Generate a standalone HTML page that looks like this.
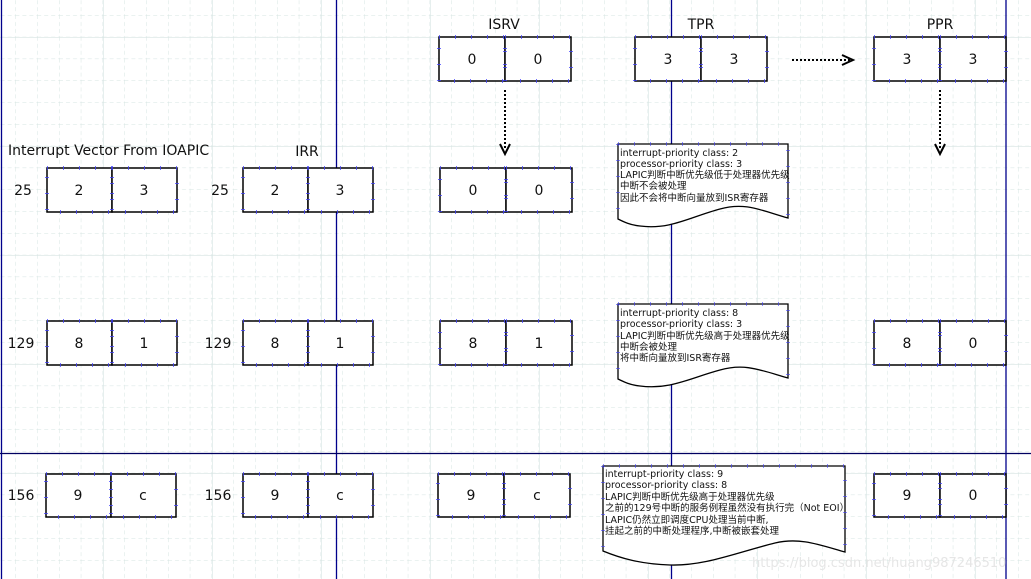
<!DOCTYPE html>
<html><head><meta charset="utf-8"><style>
html,body{margin:0;padding:0;background:#fff;width:1031px;height:579px;overflow:hidden}
svg{display:block}
text{font-family:"DejaVu Sans","Liberation Sans","Noto Sans CJK SC",sans-serif;fill:#111}
.n{font-size:14px}
.s{font-size:9.5px}
</style></head><body>
<svg width="1031" height="579" viewBox="0 0 1031 579" xmlns="http://www.w3.org/2000/svg">
<defs>
<pattern id="g" x="15.4" y="15" width="21.8" height="21.8" patternUnits="userSpaceOnUse">
<path d="M0 0V21.8M0 0H21.8" stroke="#d6e4e2" stroke-width="1" stroke-dasharray="4 3" fill="none"/>
</pattern>
<pattern id="G" x="103" y="37" width="109" height="109" patternUnits="userSpaceOnUse">
<path d="M0 0V109M0 0H109" stroke="#d6e4e2" stroke-width="1.2" fill="none"/>
</pattern>
<g id="boxes">
<rect x="47" y="168" width="65" height="44"/><rect x="112" y="168" width="65" height="44"/>
<rect x="243" y="168" width="65" height="44"/><rect x="308" y="168" width="65" height="44"/>
<rect x="440" y="168" width="66" height="44"/><rect x="506" y="168" width="66" height="44"/>
<rect x="439" y="37" width="66" height="44"/><rect x="505" y="37" width="66" height="44"/>
<rect x="635" y="37" width="66" height="44"/><rect x="701" y="37" width="66" height="44"/>
<rect x="874" y="37" width="66" height="44"/><rect x="940" y="37" width="66" height="44"/>
<rect x="47" y="321" width="65" height="44"/><rect x="112" y="321" width="65" height="44"/>
<rect x="243" y="321" width="65" height="44"/><rect x="308" y="321" width="65" height="44"/>
<rect x="440" y="321" width="66" height="44"/><rect x="506" y="321" width="66" height="44"/>
<rect x="874" y="321" width="66" height="44"/><rect x="940" y="321" width="66" height="44"/>
<rect x="46" y="474" width="65" height="43"/><rect x="111" y="474" width="65" height="43"/>
<rect x="243" y="474" width="65" height="43"/><rect x="308" y="474" width="65" height="43"/>
<rect x="438" y="474" width="66" height="43"/><rect x="504" y="474" width="66" height="43"/>
<rect x="874" y="474" width="66" height="43"/><rect x="940" y="474" width="66" height="43"/>
</g>
</defs>
<rect width="1031" height="579" fill="url(#g)"/>
<rect width="1031" height="579" fill="url(#G)"/>
<g stroke="#00008b" stroke-width="1.3">
<line x1="1.5" y1="0" x2="1.5" y2="579"/>
<line x1="336.5" y1="0" x2="336.5" y2="579"/>
<line x1="671.5" y1="0" x2="671.5" y2="579"/>
<line x1="1006" y1="0" x2="1006" y2="579"/>
<line x1="0" y1="453.5" x2="1031" y2="453.5" stroke="#000060"/>
</g>
<use href="#boxes" fill="#fff" stroke="#000" stroke-width="1.5"/>
<use href="#boxes" fill="none" stroke="#4040ff" stroke-width="4" stroke-dasharray="1 15" opacity="0.75"/>
<!-- notes -->
<g fill="#fff" stroke="#000" stroke-width="1.3">
<path d="M618 144H788V218C760 210 745 202 720 209C690 217 670 230 640 226C630 225 624 222 618 219Z"/>
<path d="M618 304H788V378C760 370 745 363 720 370C690 378 670 390 640 386C630 385 624 382 618 379Z"/>
<path d="M603 466H845V552C820 545 800 537 775 543C735 553 705 566 670 565C640 564 620 558 603 551Z"/>
</g>
<g fill="none" stroke="#4040ff" stroke-width="4" stroke-dasharray="1 15" opacity="0.6">
<path d="M618 144H788V218M618 144V219"/>
<path d="M618 304H788V378M618 304V379"/>
<path d="M603 466H845V552M603 466V551"/>
</g>
<!-- arrows -->
<g stroke="#000" stroke-width="2" fill="none">
<line x1="792" y1="60" x2="850" y2="60" stroke-dasharray="2 2"/>
<path d="M842 55L853 60L842 65"/>
<line x1="505" y1="90" x2="505" y2="150" stroke-dasharray="2 2"/>
<path d="M500 144L505 154L510 144"/>
<line x1="940" y1="90" x2="940" y2="150" stroke-dasharray="2 2"/>
<path d="M935 144L940 154L945 144"/>
</g>
<!-- labels -->
<g class="n" text-anchor="middle">
<text x="504" y="29">ISRV</text><text x="701" y="29">TPR</text><text x="940" y="29">PPR</text>
<text x="307" y="156">IRR</text>
<text x="472" y="64">0</text><text x="538" y="64">0</text>
<text x="668" y="64">3</text><text x="734" y="64">3</text>
<text x="907" y="64">3</text><text x="973" y="64">3</text>
<text x="79" y="195">2</text><text x="144" y="195">3</text>
<text x="275" y="195">2</text><text x="340" y="195">3</text>
<text x="473" y="195">0</text><text x="539" y="195">0</text>
<text x="79" y="348">8</text><text x="144" y="348">1</text>
<text x="275" y="348">8</text><text x="340" y="348">1</text>
<text x="473" y="348">8</text><text x="539" y="348">1</text>
<text x="907" y="348">8</text><text x="973" y="348">0</text>
<text x="78" y="500">9</text><text x="143" y="500">c</text>
<text x="275" y="500">9</text><text x="340" y="500">c</text>
<text x="471" y="500">9</text><text x="537" y="500">c</text>
<text x="907" y="500">9</text><text x="973" y="500">0</text>
<text x="23" y="195">25</text><text x="220" y="195">25</text>
<text x="21" y="348">129</text><text x="218" y="348">129</text>
<text x="21" y="500">156</text><text x="218" y="500">156</text>
</g>
<text class="n" x="8" y="155">Interrupt Vector From IOAPIC</text>
<g class="s">
<text x="620" y="156">interrupt-priority class: 2</text>
<text x="620" y="167">processor-priority class: 3</text>
<text x="620" y="178">LAPIC判断中断优先级低于处理器优先级</text>
<text x="620" y="189">中断不会被处理</text>
<text x="620" y="201">因此不会将中断向量放到ISR寄存器</text>
<text x="620" y="316">interrupt-priority class: 8</text>
<text x="620" y="327">processor-priority class: 3</text>
<text x="620" y="339">LAPIC判断中断优先级高于处理器优先级</text>
<text x="620" y="350">中断会被处理</text>
<text x="620" y="361">将中断向量放到ISR寄存器</text>
<text x="605" y="477">interrupt-priority class: 9</text>
<text x="605" y="488">processor-priority class: 8</text>
<text x="605" y="500">LAPIC判断中断优先级高于处理器优先级</text>
<text x="605" y="511">之前的129号中断的服务例程虽然没有执行完（Not EOI）</text>
<text x="605" y="523">LAPIC仍然立即调度CPU处理当前中断,</text>
<text x="605" y="534">挂起之前的中断处理程序,中断被嵌套处理</text>
</g>
<text x="752" y="567" style="font-size:13px;fill:#e6e6e6">https://blog.csdn.net/huang987246510</text>
</svg>
</body></html>
